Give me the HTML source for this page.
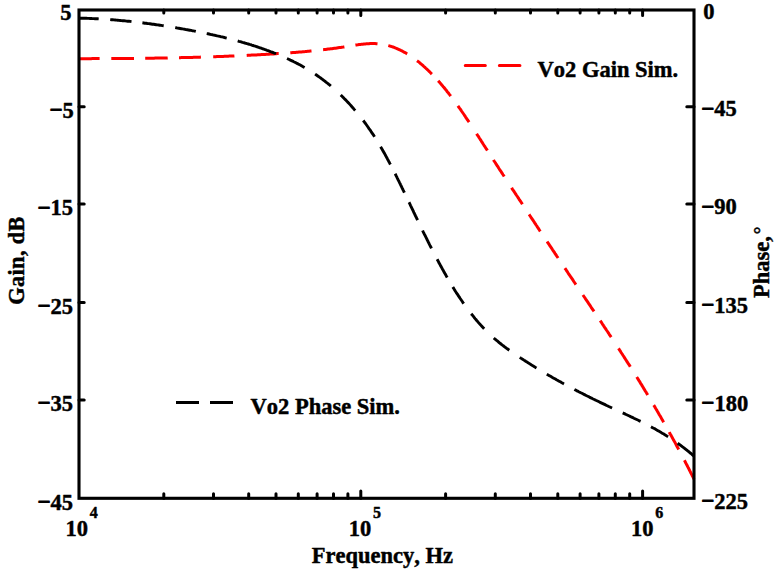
<!DOCTYPE html>
<html><head><meta charset="utf-8"><style>
html,body{margin:0;padding:0;background:#fff;}
body{width:776px;height:573px;overflow:hidden;}
svg{display:block;}
text{font-family:"Liberation Serif",serif;font-weight:bold;font-size:22.5px;fill:#000;font-kerning:none;stroke:#000;stroke-width:0.45px;stroke-linejoin:round;}
.sup{font-size:16px;}
.m{stroke:#000;stroke-width:1.1px;}
</style></head><body>
<svg width="776" height="573" viewBox="0 0 776 573">
<rect x="0" y="0" width="776" height="573" fill="#fff"/>
<path d="M79.0,58.7 80.2,58.7 81.4,58.7 82.6,58.7 83.8,58.7 85.1,58.7 86.3,58.7 87.5,58.7 88.7,58.7 89.9,58.7 91.1,58.7 92.3,58.6 93.5,58.6 94.8,58.6 96.0,58.6 97.2,58.6 98.4,58.6 99.6,58.6 M111.3,58.6 112.6,58.6 113.8,58.6 115.1,58.6 116.3,58.5 117.6,58.5 118.9,58.5 120.1,58.5 121.4,58.5 122.7,58.5 123.9,58.5 125.2,58.5 126.4,58.5 127.7,58.5 129.0,58.4 130.2,58.4 131.5,58.4 132.7,58.4 134.0,58.4 M145.2,58.3 146.5,58.3 147.7,58.2 149.0,58.2 150.2,58.2 151.5,58.2 152.7,58.2 154.0,58.2 155.2,58.1 156.5,58.1 157.7,58.1 159.0,58.1 160.2,58.1 161.5,58.0 162.7,58.0 164.0,58.0 165.2,58.0 166.5,58.0 167.7,57.9 M179.0,57.7 180.2,57.7 181.4,57.6 182.7,57.6 183.9,57.6 185.1,57.6 186.3,57.5 187.5,57.5 188.7,57.5 190.0,57.4 191.2,57.4 192.4,57.4 193.6,57.3 194.8,57.3 196.0,57.3 197.3,57.2 198.5,57.2 199.7,57.2 200.9,57.1 M213.2,56.7 214.4,56.7 215.7,56.7 216.9,56.6 218.2,56.6 219.4,56.5 220.7,56.5 221.9,56.4 223.2,56.4 224.4,56.3 225.7,56.3 226.9,56.2 228.2,56.2 229.4,56.1 230.7,56.1 231.9,56.0 233.2,56.0 234.4,55.9 M246.7,55.4 247.9,55.3 249.2,55.2 250.4,55.2 251.6,55.1 252.9,55.1 254.1,55.0 255.3,54.9 256.5,54.9 257.8,54.8 259.0,54.7 260.2,54.7 261.5,54.6 262.7,54.5 263.9,54.5 265.2,54.4 266.4,54.3 267.6,54.2 268.9,54.2 270.1,54.1 271.3,54.0 272.5,53.9 273.8,53.9 275.0,53.8 276.2,53.7 277.5,53.6 278.7,53.6 M290.3,52.8 291.5,52.7 292.8,52.6 294.0,52.5 295.3,52.4 296.5,52.3 297.8,52.2 299.0,52.1 300.3,52.0 301.5,51.9 302.8,51.8 304.0,51.7 305.3,51.6 306.5,51.4 307.8,51.3 309.0,51.2 310.3,51.1 311.5,51.0 M323.1,49.7 324.4,49.6 325.6,49.5 326.9,49.3 328.1,49.1 329.4,49.0 330.6,48.8 331.9,48.7 333.1,48.5 334.4,48.3 335.6,48.2 336.9,48.0 338.1,47.8 339.4,47.6 340.7,47.4 341.9,47.2 343.2,47.1 344.4,46.9 M355.4,45.1 356.6,44.9 357.8,44.8 359.1,44.6 360.3,44.4 361.5,44.3 362.7,44.2 364.0,44.0 365.2,43.9 366.4,43.8 367.6,43.7 368.9,43.7 370.1,43.6 371.3,43.6 372.6,43.6 373.8,43.6 375.0,43.6 376.3,43.7 377.5,43.8 M388.3,45.6 389.5,45.9 390.6,46.3 391.8,46.6 393.0,47.0 394.1,47.4 395.2,47.9 396.4,48.3 397.5,48.8 398.6,49.3 399.7,49.8 400.8,50.4 401.9,50.9 403.0,51.5 404.0,52.1 405.1,52.6 406.2,53.3 407.2,53.9 M417.0,60.7 418.0,61.4 419.0,62.2 419.9,63.0 420.9,63.8 421.9,64.6 422.8,65.4 423.7,66.3 424.7,67.1 425.6,68.0 426.5,68.8 427.4,69.7 428.3,70.5 429.2,71.4 430.1,72.3 431.0,73.2 431.9,74.1 M438.2,80.8 439.0,81.7 439.8,82.6 440.6,83.6 441.4,84.5 442.2,85.4 443.0,86.4 443.8,87.3 444.6,88.3 445.4,89.3 446.2,90.2 446.9,91.2 447.7,92.2 448.5,93.1 449.2,94.1 450.0,95.1 450.7,96.1 M457.9,105.9 458.6,106.9 459.3,107.9 460.1,108.9 460.8,109.9 461.5,111.0 462.2,112.0 462.9,113.0 463.6,114.0 464.3,115.0 465.0,116.1 465.6,117.1 466.3,118.1 467.0,119.1 467.7,120.2 468.4,121.2 469.1,122.2 M476.6,133.8 477.3,134.9 478.0,135.9 478.7,136.9 479.3,138.0 480.0,139.0 480.7,140.1 481.3,141.1 482.0,142.1 482.7,143.2 483.3,144.2 484.0,145.3 484.7,146.3 485.3,147.3 486.0,148.4 486.7,149.4 487.4,150.5 M493.5,159.9 494.1,161.0 494.8,162.0 495.5,163.0 496.1,164.1 496.8,165.1 497.5,166.2 498.2,167.2 498.8,168.2 499.5,169.3 500.2,170.3 500.9,171.3 501.5,172.4 502.2,173.4 502.9,174.5 503.6,175.5 504.2,176.5 M511.6,187.7 512.2,188.8 512.9,189.8 513.6,190.8 514.3,191.9 515.0,192.9 515.6,193.9 516.3,195.0 517.0,196.0 517.7,197.0 518.4,198.1 519.0,199.1 519.7,200.2 520.4,201.2 521.1,202.2 521.8,203.3 522.4,204.3 M529.1,214.4 529.8,215.5 530.5,216.5 531.2,217.6 531.9,218.6 532.6,219.7 533.3,220.7 534.0,221.8 534.7,222.9 535.4,223.9 536.1,225.0 536.8,226.0 537.5,227.1 538.2,228.1 538.9,229.2 539.6,230.3 540.3,231.3 M547.1,241.5 547.8,242.6 548.5,243.6 549.2,244.6 549.8,245.7 550.5,246.7 551.2,247.7 551.9,248.7 552.6,249.8 553.3,250.8 554.0,251.8 554.7,252.9 555.3,253.9 556.0,254.9 556.7,256.0 557.4,257.0 558.1,258.0 M564.9,268.1 565.6,269.2 566.3,270.2 566.9,271.2 567.6,272.2 568.3,273.3 569.0,274.3 569.7,275.3 570.4,276.4 571.1,277.4 571.8,278.4 572.5,279.4 573.2,280.5 573.8,281.5 574.5,282.5 575.2,283.5 575.9,284.6 M582.9,295.0 583.6,296.0 584.3,297.0 585.0,298.0 585.7,299.1 586.4,300.1 587.1,301.1 587.8,302.1 588.5,303.2 589.1,304.2 589.8,305.2 590.5,306.2 591.2,307.3 591.9,308.3 592.6,309.3 593.3,310.3 594.0,311.4 M600.2,320.7 600.9,321.7 601.6,322.7 602.3,323.8 603.0,324.8 603.6,325.8 604.3,326.9 605.0,327.9 605.7,328.9 606.4,330.0 607.1,331.0 607.8,332.0 608.5,333.1 609.1,334.1 609.8,335.2 610.5,336.2 611.2,337.2 M618.5,348.4 619.2,349.4 619.8,350.4 620.5,351.4 621.1,352.5 621.8,353.5 622.5,354.5 623.1,355.5 623.8,356.5 624.4,357.6 625.1,358.6 625.7,359.6 626.4,360.6 627.0,361.7 627.7,362.7 628.3,363.7 629.0,364.7 629.7,365.7 630.3,366.8 M636.7,377.0 637.4,378.0 638.0,379.1 638.7,380.1 639.3,381.2 640.0,382.2 640.6,383.3 641.3,384.3 641.9,385.4 642.6,386.5 643.2,387.5 643.8,388.6 644.5,389.6 645.1,390.7 645.8,391.8 646.4,392.8 647.1,393.9 647.7,394.9 M653.7,405.1 654.4,406.1 655.0,407.2 655.6,408.3 656.2,409.3 656.9,410.4 657.5,411.5 658.1,412.5 658.7,413.6 659.3,414.7 660.0,415.8 660.6,416.8 661.2,417.9 661.8,419.0 662.4,420.1 663.0,421.1 663.7,422.2 M669.2,432.1 669.8,433.2 670.4,434.3 671.0,435.3 671.6,436.4 672.2,437.5 672.8,438.6 673.4,439.7 674.0,440.8 674.6,441.8 675.2,442.9 675.8,444.0 676.3,445.1 676.9,446.2 677.5,447.3 678.1,448.4 678.7,449.5 M684.4,460.3 685.0,461.4 685.5,462.5 686.1,463.6 686.7,464.7 687.3,465.8 687.8,466.9 688.4,468.0 689.0,469.2 689.5,470.3 690.1,471.4 690.6,472.5 691.2,473.6 691.8,474.7 692.3,475.8 692.9,476.9 693.4,478.0 694.0,479.1" fill="none" stroke="#ff0000" stroke-width="3" stroke-linecap="butt" stroke-linejoin="round"/>
<path d="M79.0,18.1 80.2,18.2 81.5,18.2 82.7,18.2 83.9,18.3 85.2,18.3 86.4,18.3 87.6,18.4 88.8,18.4 90.1,18.5 91.3,18.5 92.5,18.6 93.8,18.6 95.0,18.7 96.2,18.8 97.5,18.8 98.7,18.9 M110.2,19.6 111.5,19.7 112.7,19.8 114.0,19.9 115.2,20.0 116.5,20.1 117.7,20.2 119.0,20.4 120.2,20.5 121.5,20.6 122.7,20.7 124.0,20.8 125.2,20.9 126.5,21.1 127.7,21.2 129.0,21.3 130.2,21.4 131.5,21.6 M142.4,22.8 143.7,23.0 144.9,23.2 146.2,23.3 147.4,23.5 148.7,23.6 149.9,23.8 151.2,24.0 152.4,24.2 153.7,24.3 154.9,24.5 156.2,24.7 157.4,24.9 158.7,25.0 159.9,25.2 161.2,25.4 162.4,25.6 163.7,25.8 M175.2,27.6 176.4,27.8 177.6,28.1 178.8,28.3 180.1,28.5 181.3,28.7 182.5,28.9 183.7,29.1 184.9,29.3 186.1,29.6 187.3,29.8 188.5,30.0 189.8,30.2 191.0,30.4 192.2,30.7 193.4,30.9 194.6,31.1 195.8,31.4 M206.7,33.6 207.9,33.8 209.1,34.0 210.2,34.3 211.4,34.6 212.6,34.8 213.8,35.1 215.0,35.3 216.1,35.6 217.3,35.9 218.5,36.1 219.7,36.4 220.8,36.7 222.0,36.9 223.2,37.2 224.4,37.5 225.5,37.8 226.7,38.1 M237.7,40.9 238.9,41.3 240.1,41.6 241.2,41.9 242.4,42.3 243.6,42.6 244.8,43.0 246.0,43.3 247.1,43.7 248.3,44.0 249.5,44.4 250.7,44.7 251.8,45.1 253.0,45.5 254.2,45.9 255.3,46.2 256.5,46.6 257.7,47.0 258.8,47.4 260.0,47.8 261.2,48.2 262.3,48.6 263.5,49.0 264.6,49.4 265.8,49.8 266.9,50.3 268.1,50.7 269.2,51.1 270.4,51.6 271.5,52.0 272.7,52.4 273.8,52.9 275.0,53.3 276.1,53.8 M287.0,58.5 288.1,59.0 289.2,59.5 290.4,60.1 291.5,60.6 292.6,61.1 293.7,61.7 294.8,62.2 295.9,62.8 297.0,63.4 298.1,63.9 299.2,64.5 300.3,65.1 301.4,65.7 302.4,66.3 303.5,66.9 304.6,67.5 M315.1,74.1 316.1,74.8 317.1,75.5 318.1,76.2 319.1,76.9 320.1,77.6 321.1,78.3 322.1,79.1 323.1,79.8 324.1,80.6 325.1,81.3 326.0,82.1 327.0,82.9 328.0,83.6 328.9,84.4 329.9,85.2 330.8,86.0 M340.7,95.0 341.6,95.8 342.5,96.7 343.4,97.6 344.2,98.5 345.1,99.4 346.0,100.3 346.9,101.2 347.7,102.1 348.6,103.0 349.4,103.9 350.3,104.9 351.1,105.8 351.9,106.7 352.8,107.7 353.6,108.6 354.4,109.6 355.2,110.5 M363.2,120.5 364.0,121.5 364.7,122.5 365.5,123.5 366.2,124.5 366.9,125.5 367.6,126.5 368.3,127.5 369.0,128.6 369.8,129.6 370.5,130.6 371.1,131.6 371.8,132.6 372.5,133.7 373.2,134.7 373.9,135.7 374.6,136.8 M380.6,146.7 381.2,147.7 381.9,148.9 382.5,150.0 383.1,151.1 383.8,152.2 384.4,153.3 385.0,154.4 385.6,155.5 386.2,156.6 386.8,157.7 387.4,158.9 388.0,160.0 388.6,161.1 389.2,162.2 389.8,163.4 390.4,164.5 M395.1,173.7 395.7,174.8 396.2,175.9 396.8,177.0 397.3,178.1 397.9,179.3 398.4,180.4 399.0,181.5 399.5,182.6 400.1,183.7 400.6,184.8 401.2,186.0 401.7,187.1 402.2,188.2 402.8,189.3 403.3,190.4 403.9,191.6 404.4,192.7 M409.0,202.3 409.6,203.4 410.1,204.5 410.6,205.6 411.2,206.8 411.7,207.9 412.2,209.0 412.8,210.1 413.3,211.2 413.8,212.3 414.4,213.5 414.9,214.6 415.4,215.7 416.0,216.8 416.5,217.9 417.0,219.0 417.6,220.1 M422.6,230.5 423.1,231.6 423.7,232.8 424.2,233.9 424.8,235.0 425.4,236.1 425.9,237.2 426.5,238.4 427.0,239.5 427.6,240.6 428.1,241.7 428.7,242.8 429.2,243.9 429.8,245.1 430.4,246.2 430.9,247.3 431.5,248.4 M437.1,259.2 437.7,260.3 438.3,261.4 438.8,262.5 439.4,263.6 440.0,264.6 440.6,265.7 441.2,266.8 441.8,267.9 442.4,269.0 443.0,270.0 443.6,271.1 444.2,272.2 444.8,273.3 445.4,274.3 446.0,275.4 446.6,276.5 447.2,277.5 M452.8,287.0 453.5,288.1 454.1,289.1 454.8,290.2 455.4,291.2 456.1,292.3 456.8,293.3 457.5,294.3 458.1,295.4 458.8,296.4 459.5,297.4 460.2,298.5 460.9,299.5 461.6,300.5 462.3,301.5 463.0,302.6 463.7,303.6 M471.2,313.8 472.0,314.7 472.8,315.7 473.6,316.7 474.3,317.6 475.1,318.6 475.9,319.5 476.7,320.5 477.5,321.4 478.3,322.4 479.1,323.3 480.0,324.2 480.8,325.1 481.6,326.0 482.5,327.0 483.3,327.9 484.2,328.8 M493.8,338.0 494.7,338.8 495.7,339.6 496.6,340.4 497.6,341.2 498.5,342.0 499.5,342.8 500.4,343.5 501.4,344.3 502.4,345.1 503.4,345.8 504.3,346.6 505.3,347.3 506.3,348.1 507.3,348.8 508.3,349.5 509.3,350.2 M519.8,357.4 520.8,358.1 521.9,358.8 522.9,359.4 523.9,360.1 525.0,360.8 526.0,361.5 527.1,362.1 528.1,362.8 529.2,363.4 530.2,364.1 531.2,364.8 532.3,365.4 533.3,366.1 534.4,366.7 535.5,367.4 536.5,368.0 M546.8,374.2 547.8,374.8 548.9,375.4 550.0,376.0 551.1,376.6 552.1,377.3 553.2,377.9 554.3,378.5 555.4,379.1 556.4,379.7 557.5,380.3 558.6,380.9 559.7,381.5 560.8,382.1 561.8,382.7 562.9,383.3 564.0,383.9 M574.4,389.4 575.5,390.0 576.5,390.6 577.6,391.1 578.7,391.7 579.7,392.2 580.8,392.8 581.9,393.3 582.9,393.8 584.0,394.4 585.1,394.9 586.2,395.5 587.2,396.0 588.3,396.5 589.4,397.1 590.4,397.6 591.5,398.1 592.6,398.7 593.7,399.2 594.8,399.7 595.8,400.3 596.9,400.8 598.0,401.3 599.1,401.8 600.2,402.4 601.2,402.9 602.3,403.4 603.4,403.9 604.5,404.4 605.6,404.9 606.7,405.5 607.8,406.0 608.8,406.5 609.9,407.0 611.0,407.5 612.1,408.0 M622.7,412.9 623.8,413.4 624.9,413.9 626.1,414.5 627.2,415.0 628.3,415.5 629.4,416.0 630.6,416.6 631.7,417.1 632.8,417.6 633.9,418.2 635.0,418.7 636.1,419.2 637.3,419.8 638.4,420.3 639.5,420.9 640.6,421.4 M651.0,426.8 652.1,427.4 653.2,428.0 654.3,428.5 655.3,429.1 656.4,429.8 657.5,430.4 658.6,431.0 659.6,431.6 660.7,432.2 661.8,432.9 662.8,433.5 663.9,434.1 664.9,434.8 666.0,435.4 667.0,436.1 668.1,436.8 M677.7,443.2 678.7,444.0 679.7,444.7 680.7,445.4 681.6,446.1 682.6,446.9 683.6,447.6 684.6,448.4 685.5,449.1 686.5,449.9 687.4,450.6 688.4,451.4 689.3,452.2 690.3,453.0 691.2,453.7 692.1,454.5 693.1,455.3 694.0,456.1" fill="none" stroke="#000" stroke-width="2.9" stroke-linecap="butt" stroke-linejoin="round"/>
<rect x="79.0" y="10.0" width="615.0" height="488.3" fill="none" stroke="#000" stroke-width="3.1"/>
<path d="M163.8,498.3 v-4.5 M163.8,10.0 v3.0 M213.5,498.3 v-4.5 M213.5,10.0 v3.0 M248.7,498.3 v-4.5 M248.7,10.0 v3.0 M276.0,498.3 v-4.5 M276.0,10.0 v3.0 M298.3,498.3 v-4.5 M298.3,10.0 v3.0 M317.1,498.3 v-4.5 M317.1,10.0 v3.0 M333.5,498.3 v-4.5 M333.5,10.0 v3.0 M347.9,498.3 v-4.5 M347.9,10.0 v3.0 M360.8,498.3 v-7.4 M360.8,10.0 v5.5 M445.6,498.3 v-4.5 M445.6,10.0 v3.0 M495.3,498.3 v-4.5 M495.3,10.0 v3.0 M530.5,498.3 v-4.5 M530.5,10.0 v3.0 M557.8,498.3 v-4.5 M557.8,10.0 v3.0 M580.1,498.3 v-4.5 M580.1,10.0 v3.0 M598.9,498.3 v-4.5 M598.9,10.0 v3.0 M615.3,498.3 v-4.5 M615.3,10.0 v3.0 M629.7,498.3 v-4.5 M629.7,10.0 v3.0 M642.6,498.3 v-7.4 M642.6,10.0 v5.5 M79.0,106.8 h5.2 M694.0,106.8 h-7.2 M79.0,204.0 h5.2 M694.0,204.0 h-7.2 M79.0,302.5 h5.2 M694.0,302.5 h-7.2 M79.0,399.9 h5.2 M694.0,399.9 h-7.2" stroke="#000" stroke-width="3" stroke-linecap="round" fill="none"/>
<text x="71.4" y="20.0" text-anchor="end">5</text><text x="703.2" y="19.0">0</text><text x="73.8" y="117.6" text-anchor="end"><tspan class="m" dy="-0.7">−</tspan><tspan dy="0.7">5</tspan></text><text x="701.4" y="116.4"><tspan class="m" dy="-0.7">−</tspan><tspan dy="0.7">45</tspan></text><text x="73.0" y="215.2" text-anchor="end"><tspan class="m" dy="-0.7">−</tspan><tspan dy="0.7">15</tspan></text><text x="701.4" y="214.3"><tspan class="m" dy="-0.7">−</tspan><tspan dy="0.7">90</tspan></text><text x="73.0" y="313.6" text-anchor="end"><tspan class="m" dy="-0.7">−</tspan><tspan dy="0.7">25</tspan></text><text x="701.4" y="312.8"><tspan class="m" dy="-0.7">−</tspan><tspan dy="0.7">135</tspan></text><text x="73.0" y="410.7" text-anchor="end"><tspan class="m" dy="-0.7">−</tspan><tspan dy="0.7">35</tspan></text><text x="701.6" y="410.6"><tspan class="m" dy="-0.7">−</tspan><tspan dy="0.7">180</tspan></text><text x="73.0" y="509.7" text-anchor="end"><tspan class="m" dy="-0.7">−</tspan><tspan dy="0.7">45</tspan></text><text x="701.4" y="508.7"><tspan class="m" dy="-0.7">−</tspan><tspan dy="0.7">225</tspan></text><text x="65.5" y="535.8">10</text><text x="89.8" y="517.6" class="sup">4</text><text x="348.8" y="535.8">10</text><text x="373.0" y="517.6" class="sup">5</text><text x="631.0" y="535.8">10</text><text x="655.2" y="517.6" class="sup">6</text>
<text x="382.3" y="563" text-anchor="middle">Frequency, Hz</text>
<text transform="translate(24.3,260.5) rotate(-90)" text-anchor="middle" style="letter-spacing:0.25px">Gain, dB</text>
<text transform="translate(768.5,296.8) rotate(-90)" x="-1.2">Phase,<tspan dx="2" dy="-2" style="font-size:19px">°</tspan></text>
<path d="M465.3,65.5 h20 M499.4,65.5 h20.5" stroke="#ff0000" stroke-width="3.1" stroke-linecap="round"/>
<text x="537.6" y="76.6">Vo2 Gain Sim.</text>
<path d="M176,402.4 h23 M210,402.4 h23" stroke="#000" stroke-width="3"/>
<text x="250.6" y="414.4">Vo2 Phase Sim.</text>
</svg>
</body></html>
